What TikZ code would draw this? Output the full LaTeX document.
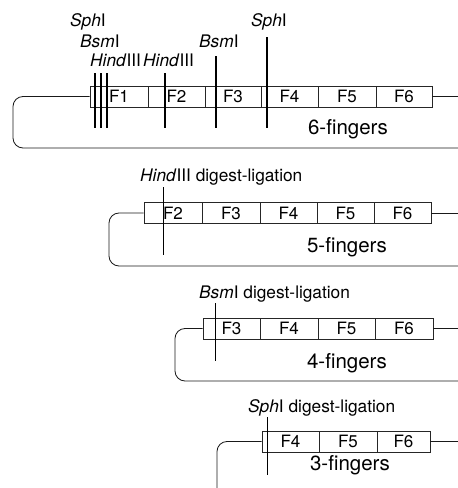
\documentclass[tikz,border=0pt]{standalone}
\usepackage{fontspec}
\setmainfont{TeX Gyre Heros}
\begin{document}
\begin{tikzpicture}[x=1pt,y=-1pt,
  cell/.style={draw=black!85, line width=0.85pt, inner sep=0pt, minimum height=21pt,
    font=\fontsize{17}{19}\selectfont},
  wire/.style={draw=black!90, line width=0.85pt, rounded corners=10pt},
  cutthick/.style={draw=black, line width=1.8pt},
  cutthin/.style={draw=black, line width=1pt},
  lab/.style={anchor=base west, inner sep=0pt, font=\fontsize{17.3}{20}\selectfont},
  count/.style={anchor=base, inner sep=0pt, font=\fontsize{20.5}{23}\selectfont}]
\useasboundingbox (0,0) rectangle (458,488);
% ---------- panel 1 ----------
\node[cell, minimum width=58pt] (p1f1) at (119,96.5) {F1};
\node[cell, minimum width=57pt] (p1f2) at (176.5,96.5) {F2};
\node[cell, minimum width=56pt] (p1f3) at (233,96.5) {F3};
\node[cell, minimum width=57pt] (p1f4) at (289.5,96.5) {F4};
\node[cell, minimum width=58pt] (p1f5) at (347,96.5) {F5};
\node[cell, minimum width=56pt] (p1f6) at (404,96.5) {F6};
\coordinate (p1R) at (458,96.5);
\coordinate (p1c) at (13,148);
\coordinate (p1E) at (458,148);
\draw[wire] (p1f6.east) -- (p1R);
\draw[wire] (p1f1.west) -| (p1c) -- (p1E);
\draw[cutthick] (95,73) -- (95,128);
\draw[cutthick] (101,73) -- (101,128);
\draw[cutthick] (107,73) -- (107,128);
\draw[cutthick] (165,73) -- (165,128);
\draw[cutthick] (216,56) -- (216,128);
\draw[cutthick] (267,37) -- (267,128);
\node[lab] (s1) at (70,26) {\textit{Sph}I};
\node[lab] (b1) at (80,47) {\textit{Bsm}I};
\node[lab] (h1) at (90,66) {\textit{Hind}III};
\node[lab] (h2) at (143,66) {\textit{Hind}III};
\node[lab] (b2) at (199,47) {\textit{Bsm}I};
\node[lab] (s2) at (251,26) {\textit{Sph}I};
\node[count] (n6) at (348,134.5) {6-fingers};
% ---------- panel 2 ----------
\node[cell, minimum width=58pt] (p2f2) at (173,213) {F2};
\node[cell, minimum width=58pt] (p2f3) at (231,213) {F3};
\node[cell, minimum width=57pt] (p2f4) at (288.5,213) {F4};
\node[cell, minimum width=57pt] (p2f5) at (345.5,213) {F5};
\node[cell, minimum width=57pt] (p2f6) at (402.5,213) {F6};
\coordinate (p2R) at (458,213);
\coordinate (p2c) at (109,266);
\coordinate (p2E) at (458,266);
\draw[wire] (p2f6.east) -- (p2R);
\draw[wire] (p2f2.west) -| (p2c) -- (p2E);
\draw[cutthin] (163,187) -- (163,255);
\node[lab] (l2) at (140,181) {\textit{Hind}III digest-ligation};
\node[count] (n5) at (347,252) {5-fingers};
% ---------- panel 3 ----------
\node[cell, minimum width=57pt] (p3f3) at (231.5,328.5) {F3};
\node[cell, minimum width=58pt] (p3f4) at (289,328.5) {F4};
\node[cell, minimum width=57pt] (p3f5) at (346.5,328.5) {F5};
\node[cell, minimum width=58pt] (p3f6) at (404,328.5) {F6};
\coordinate (p3R) at (458,328.5);
\coordinate (p3c) at (175,381);
\coordinate (p3E) at (458,381);
\draw[wire] (p3f6.east) -- (p3R);
\draw[wire] (p3f3.west) -| (p3c) -- (p3E);
\draw[cutthin] (215,303) -- (215,361);
\node[lab] (l3) at (199,298) {\textit{Bsm}I digest-ligation};
\node[count] (n4) at (347,368) {4-fingers};
% ---------- panel 4 ----------
\node[cell, minimum width=57pt] (p4f4) at (290.5,441.5) {F4};
\node[cell, minimum width=58pt] (p4f5) at (348,441.5) {F5};
\node[cell, minimum width=53pt] (p4f6) at (403.5,441.5) {F6};
\coordinate (p4R) at (458,441.5);
\coordinate (p4c) at (217,488);
\draw[wire] (p4f6.east) -- (p4R);
\draw[wire] (p4f4.west) -| (p4c);
\draw[cutthin] (267,417) -- (267,475);
\node[lab] (l4) at (248,412) {\textit{Sph}I digest-ligation};
\node[count] (n3) at (350,470) {3-fingers};
\end{tikzpicture}
\end{document}
